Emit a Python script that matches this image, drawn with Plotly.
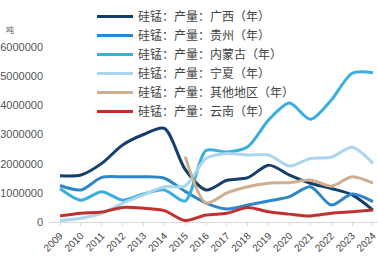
import plotly.graph_objects as go

years = list(range(2009, 2025))
guangxi = [1.59, 1.61, 2.01, 2.64, 3.00, 3.21, 1.80, 1.10, 1.43, 1.52, 1.95, 1.61, 1.33, 1.15, 0.93, 0.41]
guizhou = [1.25, 1.10, 1.53, 1.55, 1.55, 1.50, 1.05, 0.65, 0.45, 0.58, 0.72, 0.87, 1.21, 0.58, 0.96, 0.70]
neimenggu = [1.15, 0.75, 1.04, 0.75, 0.96, 1.10, 0.72, 2.45, 2.40, 2.58, 3.50, 4.08, 3.52, 4.18, 5.10, 5.12]
ningxia = [0.05, 0.13, 0.30, 0.64, 0.93, 1.21, 1.24, 2.18, 2.35, 2.30, 2.30, 1.92, 2.18, 2.22, 2.56, 2.01]
other = [None, None, None, None, None, None, 2.24, 0.65, 1.00, 1.21, 1.33, 1.35, 1.44, 1.23, 1.55, 1.33]
yunnan = [0.21, 0.30, 0.34, 0.50, 0.47, 0.39, 0.05, 0.24, 0.30, 0.50, 0.35, 0.27, 0.21, 0.30, 0.35, 0.41]

names = ["硅锰：产量：广西（年）", "硅锰：产量：贵州（年）", "硅锰：产量：内蒙古（年）",
         "硅锰：产量：宁夏（年）", "硅锰：产量：其他地区（年）", "硅锰：产量：云南（年）"]
series = [guangxi, guizhou, neimenggu, ningxia, other, yunnan]
colors = ["#143e6b", "#2e86c8", "#3aaedf", "#a9d6ee", "#cfae90", "#c0312e"]

W, H = 378, 258
ML, MR, MT, MB = 50, 0, 40, 36
PW, PH = W - ML - MR, H - MT - MB

def px_x(p):
    return (p - ML) / PW

def px_y(p_from_top):
    return (H - p_from_top - MB) / PH

fig = go.Figure()
for name, vals, c in zip(names, series, colors):
    yv = [None if v is None else v * 1_000_000 for v in vals]
    fig.add_trace(go.Scatter(x=years, y=yv, name=name, mode="lines",
                             line=dict(color=c, width=3, shape="spline", smoothing=0.8),
                             connectgaps=False))

fig.update_layout(
    width=W, height=H,
    margin=dict(l=ML, r=MR, t=MT, b=MB, autoexpand=False),
    paper_bgcolor="white", plot_bgcolor="white",
    font=dict(family="Noto Sans CJK SC, Liberation Sans, sans-serif", size=11, color="#555555"),
    showlegend=True,
    legend=dict(x=px_x(92), y=px_y(2), xanchor="left", yanchor="top",
                bgcolor="rgba(255,255,255,0)", font=dict(size=12, color="#444444"),
                tracegroupgap=0, itemwidth=36),
    annotations=[dict(text="吨", x=px_x(4), y=px_y(30),
                      xref="paper", yref="paper",
                      xanchor="left", yanchor="middle", showarrow=False,
                      font=dict(size=8, color="#555555"))],
)
fig.update_xaxes(range=[2008.52, 2024.24], tickvals=years, ticktext=[str(y) for y in years],
                 tickangle=-45, showgrid=False, showline=True, linecolor="#d9d9d9",
                 ticks="outside", ticklen=3, tickcolor="#d9d9d9", ticklabeloverflow="allow",
                 tickfont=dict(family="Liberation Sans, sans-serif", size=10, color="#444444"),
                 zeroline=False)
fig.update_yaxes(range=[0, 6240000], tickvals=[0, 1e6, 2e6, 3e6, 4e6, 5e6, 6e6],
                 ticktext=["0", "1000000", "2000000", "3000000", "4000000", "5000000", "6000000"],
                 showgrid=False, showline=False, zeroline=False, ticklabelstandoff=6,
                 tickfont=dict(family="Liberation Sans, sans-serif", size=11, color="#555555"))

fig.write_html("out.html")
